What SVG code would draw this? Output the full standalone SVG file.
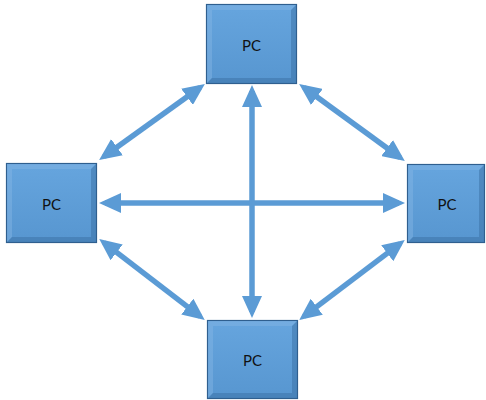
<svg xmlns="http://www.w3.org/2000/svg" width="486" height="400" viewBox="0 0 486 400">
<style>
.box{fill:url(#g);stroke:#2f5f8f;stroke-width:1.2}
.hi{fill:#86b6e4;opacity:0.45}
.sh{fill:#3a6fa3;opacity:0.5}
.lbl{font-family:Lato,"Liberation Sans",Arial,sans-serif;font-size:15px;fill:#111;text-anchor:middle;dominant-baseline:central}
.con{stroke:#5b9bd5;stroke-width:5.5;fill:none;marker-start:url(#ah);marker-end:url(#ah)}
</style>
<defs>
<linearGradient id="g" x1="0" y1="0" x2="0" y2="1">
<stop offset="0" stop-color="#66a5de"/>
<stop offset="1" stop-color="#5796d0"/>
</linearGradient>
<marker id="ah" markerUnits="userSpaceOnUse" viewBox="0 0 22 20" refX="16" refY="10" markerWidth="22" markerHeight="20" orient="auto-start-reverse">
<path d="M0,0 L22,10 L0,20 Z" fill="#5b9bd5"/>
</marker>
</defs>
<g id="connectors">
<line class="con" x1="104" y1="156.5" x2="200" y2="87.5"/>
<line class="con" x1="304" y1="87.5" x2="400" y2="157.5"/>
<line class="con" x1="104" y1="242.6" x2="200" y2="316.4"/>
<line class="con" x1="400" y1="243.6" x2="304" y2="316.4"/>
<line class="con" x1="252" y1="91" x2="252" y2="312"/>
<line class="con" x1="105" y1="203" x2="399" y2="203"/>
</g>
<g id="pc-top">
<rect class="box" x="206.5" y="4.5" width="90" height="79"/>
<polygon class="hi" points="207,5 296,5 291,10 212,10 212,78 207,83"/>
<polygon class="sh" points="296,5 296,83 207,83 212,78 291,78 291,10"/>
<text class="lbl" x="251.5" y="45">PC</text>
</g>
<g id="pc-left">
<rect class="box" x="6.5" y="163.5" width="90" height="79"/>
<polygon class="hi" points="7,164 96,164 91,169 12,169 12,237 7,242"/>
<polygon class="sh" points="96,164 96,242 7,242 12,237 91,237 91,169"/>
<text class="lbl" x="51.5" y="204">PC</text>
</g>
<g id="pc-right">
<rect class="box" x="407.5" y="164.5" width="77" height="78"/>
<polygon class="hi" points="408,165 484,165 479,170 413,170 413,237 408,242"/>
<polygon class="sh" points="484,165 484,242 408,242 413,237 479,237 479,170"/>
<text class="lbl" x="447" y="204">PC</text>
</g>
<g id="pc-bottom">
<rect class="box" x="207.5" y="320.5" width="90" height="78"/>
<polygon class="hi" points="208,321 297,321 292,326 213,326 213,393 208,398"/>
<polygon class="sh" points="297,321 297,398 208,398 213,393 292,393 292,326"/>
<text class="lbl" x="252.5" y="360">PC</text>
</g>
</svg>
